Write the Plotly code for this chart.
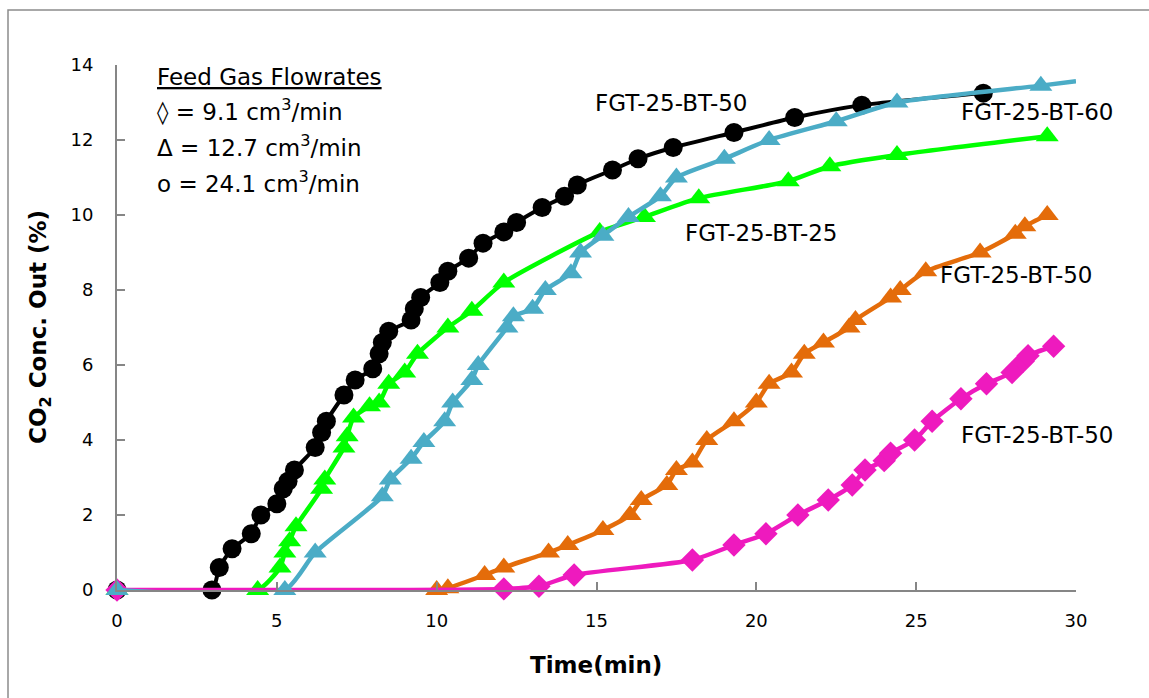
import plotly.graph_objects as go

# Breakthrough curves: time (min) vs CO2 outlet concentration (%)
black_t = [0, 2.97, 3.2, 3.6, 4.2, 4.5, 5.0, 5.2, 5.35, 5.55, 6.2, 6.4, 6.55, 7.1, 7.45, 8.0, 8.2, 8.3, 8.5,
           9.2, 9.3, 9.5, 10.1, 10.35, 11.0, 11.45, 12.1, 12.5, 13.3, 14.0, 14.4, 15.5, 16.3, 17.4, 19.3,
           21.2, 23.3, 27.1]
black_c = [0, 0, 0.6, 1.1, 1.5, 2.0, 2.3, 2.7, 2.9, 3.2, 3.8, 4.2, 4.5, 5.2, 5.6, 5.9, 6.3, 6.6, 6.9,
           7.2, 7.5, 7.8, 8.2, 8.5, 8.85, 9.25, 9.55, 9.8, 10.2, 10.5, 10.8, 11.2, 11.5, 11.8, 12.2,
           12.6, 12.93, 13.25]

green_t = [0, 4.4, 5.1, 5.25, 5.4, 5.6, 6.4, 6.5, 7.1, 7.2, 7.4, 7.9, 8.2, 8.5, 9.0, 9.4, 10.35, 11.1,
           12.1, 15.1, 16.5, 18.2, 21.0, 22.3, 24.4, 29.1]
green_c = [0, 0, 0.6, 1.0, 1.3, 1.7, 2.7, 2.95, 3.8, 4.1, 4.6, 4.9, 5.0, 5.5, 5.8, 6.3, 7.0, 7.45,
           8.2, 9.55, 9.95, 10.45, 10.9, 11.3, 11.6, 12.1]

blue_t = [0, 5.25, 6.2, 8.3, 8.55, 9.2, 9.6, 10.25, 10.5, 11.1, 11.3, 12.2, 12.4, 13.0, 13.4, 14.2,
          14.5, 15.2, 16.0, 17.0, 17.5, 19.0, 20.4, 22.5, 24.4, 28.9, 30.0]
blue_c = [0, 0, 1.0, 2.5, 2.95, 3.5, 3.95, 4.5, 5.0, 5.6, 6.0, 7.0, 7.3, 7.5, 8.0, 8.45,
          9.0, 9.45, 9.95, 10.5, 11.0, 11.5, 12.0, 12.5, 13.0, 13.45, 13.57]

orange_t = [10.0, 10.35, 11.5, 12.1, 13.5, 14.1, 15.2, 16.05, 16.4, 17.2, 17.5, 18.0, 18.45, 19.3,
            20.0, 20.4, 21.1, 21.5, 22.1, 22.9, 23.1, 24.2, 24.5, 25.3, 27.0, 28.1, 28.4, 29.1]
orange_c = [0.0, 0.05, 0.4, 0.6, 1.0, 1.2, 1.6, 2.0, 2.4, 2.8, 3.2, 3.4, 4.0, 4.5,
            5.0, 5.5, 5.8, 6.3, 6.6, 7.0, 7.2, 7.8, 8.0, 8.5, 9.0, 9.5, 9.7, 10.0]

pink_t = [0, 12.1, 13.2, 14.3, 18.0, 19.3, 20.3, 21.3, 22.25, 23.0, 23.4, 24.0, 24.2, 24.95, 25.5,
          26.4, 27.2, 28.0, 28.35, 28.5, 29.3]
pink_c = [0, 0.03, 0.1, 0.4, 0.8, 1.2, 1.5, 2.0, 2.4, 2.8, 3.2, 3.45, 3.65, 4.0, 4.5,
          5.1, 5.5, 5.8, 6.1, 6.25, 6.5]

curve_labels = ["FGT-25-BT-50", "FGT-25-BT-60", "FGT-25-BT-25", "FGT-25-BT-50", "FGT-25-BT-50"]
label_t = [17.36, 28.78, 20.17, 28.15, 28.78]
label_c = [12.99, 12.75, 9.52, 8.4, 4.13]

legend_title = "Feed Gas Flowrates"
legend_lines = ["◊ = 9.1 cm<sup>3</sup>/min", "Δ = 12.7 cm<sup>3</sup>/min", "o = 24.1 cm<sup>3</sup>/min"]

FONT = "'DejaVu Sans', sans-serif"
BLACK = "#000000"
GREEN = "#00FF00"
BLUE = "#4BACC6"
ORANGE = "#E46C0A"
PINK = "#EE1ABE"

fig = go.Figure()


def add_curve(t, c, color, symbol, size, width, hide_last=False):
    sizes = [size] * len(t)
    if hide_last:
        sizes[-1] = 0
    fig.add_trace(go.Scatter(
        x=t, y=c, mode="lines+markers",
        line=dict(color=color, width=width, shape="spline", smoothing=0.6),
        marker=dict(color=color, symbol=symbol, size=sizes, opacity=1, line=dict(width=0)),
        cliponaxis=False, showlegend=False,
    ))


add_curve(black_t, black_c, BLACK, "circle", 19, 4)
add_curve(green_t, green_c, GREEN, "triangle-up", 20, 4.5)
add_curve(orange_t, orange_c, ORANGE, "triangle-up", 20, 4.5)
add_curve(pink_t, pink_c, PINK, "diamond", 18, 4.5)
add_curve(blue_t, blue_c, BLUE, "triangle-up", 20, 4.5, hide_last=True)

# curve labels placed in data coordinates
for txt, t, c in zip(curve_labels, label_t, label_c):
    fig.add_annotation(x=t, y=c, xref="x", yref="y", text=txt, showarrow=False,
                       font=dict(family=FONT, size=23, color="black"),
                       xanchor="center", yanchor="middle")

# flowrate key
fig.add_annotation(x=0.0396, y=(590 - 77) / 525, xref="paper", yref="paper",
                   text="<u>" + legend_title + "</u>", showarrow=False,
                   font=dict(family=FONT, size=23, color="black"),
                   xanchor="left", yanchor="middle")
for i, line in enumerate(legend_lines):
    fig.add_annotation(x=0.0396, y=(590 - (110 + 36 * i)) / 525, xref="paper", yref="paper",
                       text=line, showarrow=False,
                       font=dict(family=FONT, size=23, color="black"),
                       xanchor="left", yanchor="middle")

# axis titles
fig.add_annotation(x=0.4995, y=-75 / 525, xref="paper", yref="paper",
                   text="<b>Time(min)</b>", showarrow=False,
                   font=dict(family=FONT, size=23, color="black"),
                   xanchor="center", yanchor="middle")
fig.add_annotation(x=-77 / 959, y=0.501, xref="paper", yref="paper",
                   text="<b>CO<sub>2</sub> Conc. Out (%)</b>", showarrow=False, textangle=-90,
                   font=dict(family=FONT, size=23, color="black"),
                   xanchor="center", yanchor="middle")

# outer chart frame
fig.add_shape(type="rect", xref="paper", yref="paper",
              x0=-109 / 959, x1=1.2, y0=-0.5, y1=580 / 525,
              line=dict(color="#8C8C8C", width=1.5), fillcolor="rgba(0,0,0,0)", layer="below")

axis_common = dict(
    showgrid=False, zeroline=False, showline=True, linecolor="#868686", linewidth=2,
    ticks="inside", ticklen=8, tickwidth=1.5, tickcolor="#868686",
    tickfont=dict(family=FONT, size=18, color="black"),
)

fig.update_xaxes(range=[0, 30], dtick=5, tick0=0, ticklabelstandoff=13, **axis_common)
fig.update_yaxes(range=[0, 14], dtick=2, tick0=0, ticklabelstandoff=18, **axis_common)

fig.update_layout(
    width=1149, height=698,
    margin=dict(l=117, r=73, t=65, b=108, autoexpand=False),
    paper_bgcolor="white", plot_bgcolor="white",
    font=dict(family=FONT),
)

fig.write_html("out.html")
